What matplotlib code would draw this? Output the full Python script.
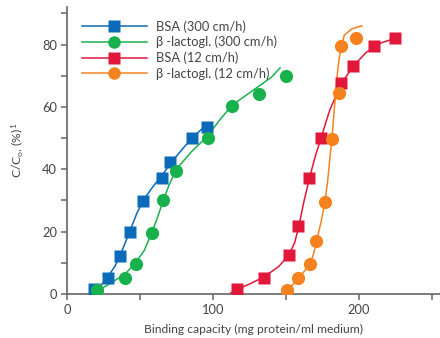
import matplotlib
matplotlib.use("Agg")
import matplotlib.pyplot as plt

plt.rcParams['font.family'] = ['Lato', 'DejaVu Sans']
plt.rcParams['mathtext.default'] = 'regular'

# measured points
bsa300_x = [18.5, 28, 36.3, 43.2, 52, 65, 70.5, 85.6, 95.9]
bsa300_y = [1.5, 5.3, 12.3, 19.8, 29.8, 37.3, 42.3, 50, 53.5]
lac300_x = [20.5, 40, 47.5, 58, 66, 75, 96.5, 113, 131.5, 150]
lac300_y = [1.3, 5.2, 9.6, 19.6, 30.3, 39.6, 50, 60.3, 64.2, 69.8]
bsa12_x = [116.5, 135, 152, 158, 166, 174, 188, 196, 210.5, 225]
bsa12_y = [1.5, 5.2, 12.4, 21.8, 37.3, 50, 67.6, 73.1, 79.6, 82]
lac12_x = [150.6, 158, 166.5, 170.5, 176.7, 181.5, 186, 187.5, 198]
lac12_y = [1.2, 5, 9.7, 17, 29.5, 49.8, 64.4, 79.6, 82]

# fitted curves
bsa300_cx = [18, 22, 28, 33, 37, 43, 48, 53, 59, 65, 72, 80, 88, 96]
bsa300_cy = [0, 2, 5.5, 9, 13, 20, 26, 30.5, 34.5, 38, 42.5, 47, 51, 54.5]
lac300_cx = [20, 30, 40, 47, 53, 58, 62, 66, 70, 75, 85, 96, 105, 113, 122, 131, 140, 146]
lac300_cy = [0.8, 3.5, 6.5, 10, 14, 19.5, 24.5, 30, 35, 40, 45.5, 50.5, 56, 60.5, 63.5, 66.5, 69.5, 72.5]
bsa12_cx = [112, 116.5, 125, 135, 145, 152, 156, 159, 162, 166, 170, 174, 180, 188, 196, 205, 215, 225]
bsa12_cy = [0.3, 1.5, 3.2, 5.5, 8.8, 12.5, 16.5, 22, 29, 37, 44, 50, 59, 67.5, 73, 77.5, 80.5, 82]
lac12_cx = [150.5, 154, 158, 162, 166.5, 169, 171.5, 174, 176.5, 178.5, 180, 181.5, 182.7, 184, 185.5, 187.5, 190, 195, 202]
lac12_cy = [0.8, 2.7, 4.8, 7, 9.5, 13, 18, 23, 29, 36, 43, 50, 57, 64, 72, 79, 83, 85, 86]

labels = ['BSA (300 cm/h)', '\u03b2 -lactogl. (300 cm/h)', 'BSA (12 cm/h)', '\u03b2 -lactogl. (12 cm/h)']
colors = ['#0b6bb8', '#19b14c', '#e1183a', '#f5821f']

fig = plt.figure(figsize=(4.4, 3.38), dpi=100)
ax = fig.add_axes([0.152, 0.130, 0.848, 0.849])

series = [
    (bsa300_x, bsa300_y, bsa300_cx, bsa300_cy, 's'),
    (lac300_x, lac300_y, lac300_cx, lac300_cy, 'o'),
    (bsa12_x, bsa12_y, bsa12_cx, bsa12_cy, 's'),
    (lac12_x, lac12_y, lac12_cx, lac12_cy, 'o'),
]
handles = []
for (x, y, cx, cy, m), c, lab in zip(series, colors, labels):
    ax.plot(cx, cy, color=c, lw=1.1, zorder=2)
    ms = 8.5 if m == 's' else 9.5
    ax.plot(x, y, ls='none', marker=m, ms=ms, color=c, mec='none', zorder=3)
    h, = ax.plot([], [], color=c, lw=1.1, marker=m, ms=ms - 0.5, mec='none', label=lab)
    handles.append(h)

txt = '#444444'
ax.set_xlim(0, 255.5)
ax.set_ylim(0, 92)
ax.set_xticks([0, 100, 200])
ax.set_xticks([50, 150, 250], minor=True)
ax.set_yticks([0, 20, 40, 60, 80])
ax.set_yticks([10, 30, 50, 70, 90], minor=True)
for s in ['top', 'right']:
    ax.spines[s].set_visible(False)
for s in ['left', 'bottom']:
    ax.spines[s].set_color('#666666')
    ax.spines[s].set_linewidth(1.2)
ax.tick_params(which='both', direction='out', length=4, width=1.1, color='#666666',
               labelcolor=txt, labelsize=9.3, pad=3)

ax.set_xlabel('Binding capacity (mg protein/ml medium)', fontsize=8.7, color=txt, labelpad=6)
ax.set_ylabel('C/C$_o$, (%)$^1$', fontsize=8.7, color=txt, labelpad=12)

ax.legend(handles=handles, loc='upper left', bbox_to_anchor=(0.02, 0.982), frameon=False,
          fontsize=9.3, labelcolor=txt, handlelength=5.0, handletextpad=0.75,
          labelspacing=0.25, borderaxespad=0.2)

fig.savefig('out.png', dpi=100)
